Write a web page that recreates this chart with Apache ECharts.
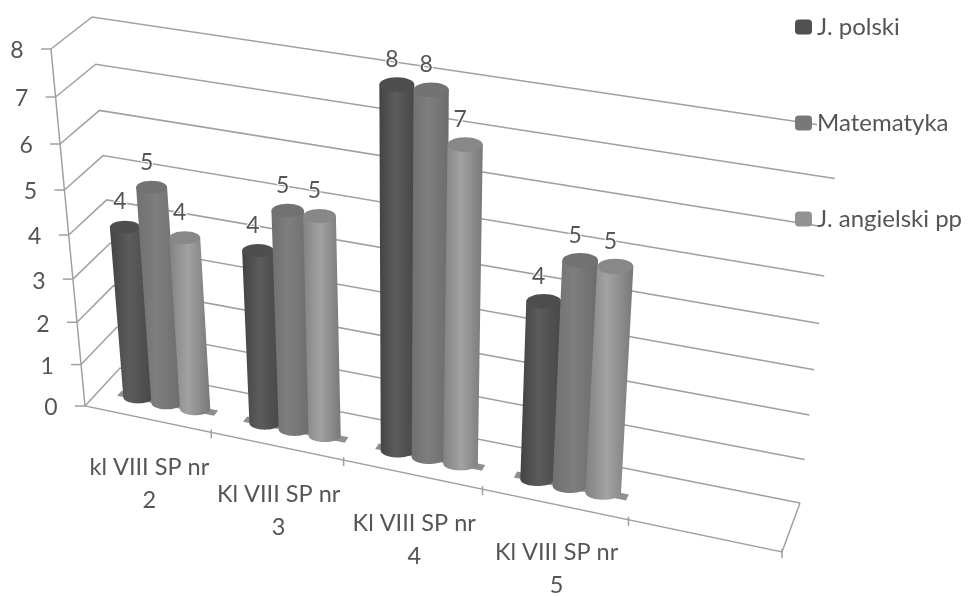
<!DOCTYPE html>
<html><head><meta charset="utf-8">
<style>html,body{margin:0;padding:0;background:#fff}#c{width:969px;height:596px;filter:blur(0.55px)}</style>
<script src="https://cdn.jsdelivr.net/npm/echarts@6/dist/echarts.min.js"></script>
</head><body><div id="c"></div>
<script>
const categories = ['kl VIII SP nr\n2','Kl VIII SP nr\n3','Kl VIII SP nr\n4','Kl VIII SP nr\n5',''];
const polski = [4,4,8,4];
const matematyka = [5,5,8,5];
const angielski = [4,5,7,5];
const seriesNames = ['J. polski','Matematyka','J. angielski pp'];
const yTicks = [0,1,2,3,4,5,6,7,8];

// Corners of the drawn 3D box on screen: [front/back][bottom/top][left/right]
const C = {
  fbl:[85,406], fbr:[782,552], ftl:[51,49], ftr:[820,166],
  bbl:[120,368], bbr:[800,503], btl:[92,17], btr:[840,128]
};
const RU = 1.13, RV = 1.088;
function project(u,v,w){
  const a = u/(u+RU*(1-u)), b = v/(v+RV*(1-v));
  const mix=(p,q,t)=>[p[0]+(q[0]-p[0])*t,p[1]+(q[1]-p[1])*t];
  const fb=mix(C.fbl,C.fbr,a), ft=mix(C.ftl,C.ftr,a), bb=mix(C.bbl,C.bbr,a), bt=mix(C.btl,C.btr,a);
  return mix(mix(fb,ft,b),mix(bb,bt,b),w);
}
function norm(params,api,cat,val){
  const p=api.coord([cat,val]), s=params.coordSys;
  return [(p[0]-s.x)/s.width,(s.y+s.height-p[1])/s.height];
}
const TXT='#555555', GRID='#a0a0a0', FONT='Lato';
const STEP=0.0455, RAD=0.0233, DEPTH=0.43, SHIFT=0.0075;
const palettes=[
  {legend:'#505050',stops:['#434343','#5c5c5c','#474747'],top:'#4e4e4e'},
  {legend:'#787878',stops:['#707070','#7e7e7e','#6c6c6c'],top:'#727272'},
  {legend:'#929292',stops:['#828282','#a2a2a2','#787878'],top:'#888888'}
];
function cylinder(si){
  return function(params,api){
    const cat=api.value(0), val=api.value(1);
    const [u0]=norm(params,api,cat,0), [,v]=norm(params,api,cat,val);
    const uc=u0+SHIFT+(si-1)*STEP;
    const topL=project(uc-RAD,v,DEPTH), topR=project(uc+RAD,v,DEPTH);
    const botL=project(uc-RAD,0,DEPTH), botR=project(uc+RAD,0,DEPTH);
    const tc=[(topL[0]+topR[0])/2,(topL[1]+topR[1])/2];
    const bc=[(botL[0]+botR[0])/2,(botL[1]+botR[1])/2];
    const rt=(topR[0]-topL[0])/2, rb=Math.max((botR[0]-botL[0])/2,rt*0.98);
    const pts=[[tc[0]-rt,tc[1]],[tc[0]+rt,tc[1]]];
    for(let i=0;i<=24;i++){const a=Math.PI*i/24;pts.push([bc[0]+rb*Math.cos(a),bc[1]+rb*0.4*Math.sin(a)]);}
    const pal=palettes[si];
    return {type:'group',children:[
      {type:'polygon',shape:{points:pts},style:{fill:{type:'linear',x:0,y:0,x2:1,y2:0,colorStops:[
        {offset:0,color:pal.stops[0]},{offset:.45,color:pal.stops[1]},{offset:1,color:pal.stops[2]}]}}},
      {type:'ellipse',shape:{cx:tc[0],cy:tc[1],rx:rt,ry:rt*0.42},style:{fill:pal.top}},
      {type:'text',z2:5,style:{text:String(val),x:tc[0]-5,y:tc[1]-25,align:'center',verticalAlign:'middle',
        fill:TXT,font:'23px '+FONT,stroke:'#fff',lineWidth:2}}
    ]};
  };
}
function seriesFor(si,values){
  return {type:'custom',name:seriesNames[si],coordinateSystem:'cartesian2d',z:3+si,clip:false,
    itemStyle:{color:palettes[si].legend},encode:{x:0,y:1},
    data:values.map((v,i)=>[i,v]),renderItem:cylinder(si)};
}
const lineStyle={stroke:GRID,lineWidth:1.5,fill:null};
const gridSeries={type:'custom',z:1,silent:true,clip:false,encode:{x:0,y:1},
  data:yTicks.map(v=>[0,v]),
  renderItem(params,api){
    const val=api.value(1), [,v]=norm(params,api,0,val);
    const f=project(0,v,0), b=project(0,v,1), r=project(1,v,1);
    return {type:'group',children:[
      {type:'polyline',shape:{points:[f,b,r]},style:lineStyle},
      {type:'line',shape:{x1:f[0]-10,y1:f[1],x2:f[0],y2:f[1]},style:lineStyle},
      {type:'text',style:{text:String(val),x:f[0]-34,y:f[1]+2,align:'center',verticalAlign:'middle',fill:TXT,font:'23px '+FONT}}
    ]};
  }};
const frameSeries={type:'custom',z:1,silent:true,clip:false,encode:{x:0,y:1},
  data:[[0,0]],
  renderItem(){
    return {type:'group',children:[
      {type:'polyline',shape:{points:[project(0,1,0),project(0,0,0),project(1,0,0),project(1,0,1)]},style:lineStyle}
    ]};
  }};
const catSeries={type:'custom',z:2,silent:true,clip:false,encode:{x:0,y:1},
  data:categories.map((c,i)=>[i,0]),
  renderItem(params,api){
    const i=api.value(0), [uc]=norm(params,api,i,0), hw=0.5/categories.length;
    const t=project(uc+hw,0,0), p=project(uc,0,0);
    const kids=[{type:'line',shape:{x1:t[0],y1:t[1]-3,x2:t[0],y2:t[1]+6},style:lineStyle}];
    if(categories[i]){
      kids.push({type:'text',style:{text:categories[i],x:p[0]+2,y:p[1]+65,align:'center',verticalAlign:'middle',
        fill:TXT,font:'23.5px '+FONT,lineHeight:33}});
      const q=[project(uc+SHIFT-1.68*STEP,0,.5),project(uc+SHIFT+1.72*STEP,0,.5),project(uc+SHIFT+1.72*STEP,0,.37),project(uc+SHIFT-1.68*STEP,0,.37)];
      kids.push({type:'polygon',shape:{points:q},style:{fill:'#909090'}});
    }
    return {type:'group',children:kids};
  }};
const chart=echarts.init(document.getElementById('c'),null,{renderer:'canvas'});
chart.setOption({
  animation:false,backgroundColor:'#fff',
  grid:{left:100,right:100,top:100,bottom:100,show:false},
  xAxis:{type:'category',data:categories,show:false},
  yAxis:{type:'value',min:0,max:8,interval:1,show:false},
  legend:{orient:'vertical',left:790,top:8,itemWidth:17,itemHeight:15,itemGap:68,icon:'roundRect',
    data:seriesNames,selectedMode:false,z:20,
    textStyle:{color:TXT,fontFamily:FONT,fontSize:24,backgroundColor:'#fff',padding:[2,2,2,0]}},
  series:[gridSeries,frameSeries,catSeries,seriesFor(0,polski),seriesFor(1,matematyka),seriesFor(2,angielski)]
});
</script></body></html>
